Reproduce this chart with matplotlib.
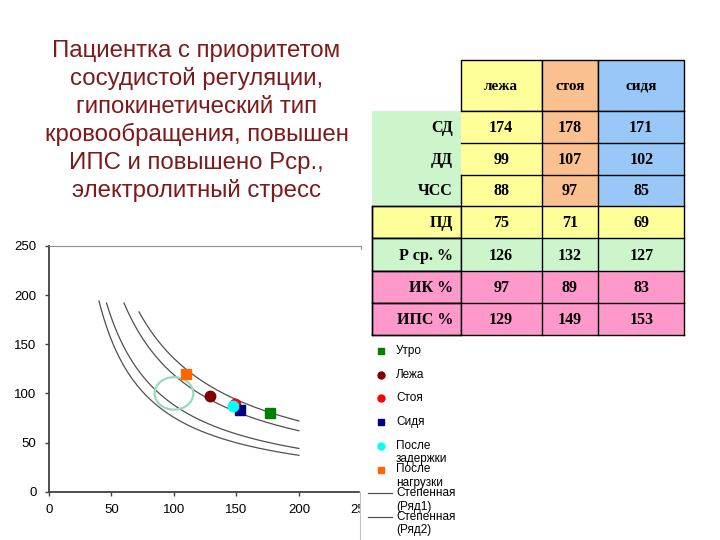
import numpy as np
import matplotlib
matplotlib.use("Agg")
import matplotlib.pyplot as plt
from matplotlib.patches import Rectangle, Ellipse

plt.rcParams["font.family"] = ["Liberation Sans", "DejaVu Sans"]

# --- данные ---
title_text = ("Пациентка с приоритетом\nсосудистой регуляции,\nгипокинетический тип\n"
              "кровообращения, повышен\nИПС и повышено Рср.,\nэлектролитный стресс")

point_names = ["Утро", "Лежа", "Стоя", "Сидя", "После\nзадержки", "После\nнагрузки"]
point_x = [177, 129, 149, 153, 147, 110]   # ИПС
point_y = [80, 97, 89, 83, 87, 120]        # ИК
point_colors = ["#008000", "#800000", "#ff0000", "#000080", "#00ffff", "#ff6600"]
point_markers = ["s", "o", "o", "s", "o", "s"]

# степенные линии тренда: начальная и конечная точки
curve_x0 = [72, 60, 46, 40]
curve_y0 = [183, 192, 192, 194]
curve_x1 = [200, 200, 200, 200]
curve_y1 = [72, 62, 44, 37]
trend_names = ["Степенная\n(Ряд1)", "Степенная\n(Ряд2)"]

norm_center = (100, 100)
norm_w, norm_h = 31, 33

col_headers = ["лежа", "стоя", "сидя"]
row_labels = ["СД", "ДД", "ЧСС", "ПД", "Р ср. %", "ИК %", "ИПС %"]
table_values = [
    [174, 178, 171],
    [99, 107, 102],
    [88, 97, 85],
    [75, 71, 69],
    [126, 132, 127],
    [97, 89, 83],
    [129, 149, 153],
]

# цвета таблицы
YEL, ORA, BLU, GRN, PNK = "#ffff99", "#fac090", "#99c7f7", "#ccf5cc", "#ff99cc"
col_colors = [YEL, ORA, BLU]
row_colors = [None, None, None, YEL, GRN, PNK, PNK]

W, H = 720, 540
fig = plt.figure(figsize=(7.2, 5.4), dpi=100)

# --- график ---
ax = fig.add_axes([49 / W, 1 - 491.7 / H, (361.4 - 49) / W, (491.7 - 246) / H])
ax.set_xlim(0, 250)
ax.set_ylim(0, 250)
ax.set_xticks(np.arange(0, 251, 50))
ax.set_yticks(np.arange(0, 251, 50))
ax.tick_params(labelsize=9.5, length=3, width=1, color="#404040", pad=6)
for s in ["left", "bottom"]:
    ax.spines[s].set_color("#404040")
    ax.spines[s].set_linewidth(1.3)
for s in ["top", "right"]:
    ax.spines[s].set_color("#909090")
    ax.spines[s].set_linewidth(0.8)

for x0, y0, x1, y1 in zip(curve_x0, curve_y0, curve_x1, curve_y1):
    b = np.log(y1 / y0) / np.log(x1 / x0)
    a = y0 / x0 ** b
    xs = np.linspace(x0, x1, 200)
    ax.plot(xs, a * xs ** b, color="#505050", lw=0.9, zorder=2)

ax.add_patch(Ellipse(norm_center, norm_w, norm_h, fill=False,
                     edgecolor="#99d9bd", lw=1.6, zorder=3))

for x, y, c, m in zip(point_x, point_y, point_colors, point_markers):
    ax.plot(x, y, marker=m, color=c, markersize=7.5, ls="none", zorder=4)

# --- слой в пиксельных координатах ---
ov = fig.add_axes([0, 0, 1, 1], facecolor="none")
ov.set_xlim(0, W)
ov.set_ylim(H, 0)
ov.axis("off")

# белый фон картинки таблицы и легенды
ov.add_patch(Rectangle((360.3, 250), W - 360.3, H - 250, color="white", zorder=1))
ov.plot([359.5, 359.5], [491.7, 540], color="#c0c0c0", lw=0.8, zorder=2)

fig.text(196.5 / W, 1 - 121 / H, title_text, ha="center", va="center",
         fontsize=17.3, color="#7f1a1a", linespacing=1.31)

# --- таблица ---
col_edges = [460.7, 541.7, 598.3, 684.3]
row_edges = [111, 143.3, 175, 205.7, 238.3, 271, 303.3, 335]
head_top = 60
lab_left = 371.7
serif = ["Liberation Serif", "DejaVu Serif"]

# заголовки
for j, name in enumerate(col_headers):
    ov.add_patch(Rectangle((col_edges[j], head_top), col_edges[j + 1] - col_edges[j],
                           row_edges[0] - head_top, facecolor=col_colors[j],
                           edgecolor="black", lw=1, zorder=3))
    ov.text((col_edges[j] + col_edges[j + 1]) / 2, (head_top + row_edges[0]) / 2 + 1, name,
            ha="center", va="center", fontsize=11, fontweight="bold",
            family=serif, zorder=5)

# зелёная область подписей СД/ДД/ЧСС
ov.add_patch(Rectangle((lab_left, row_edges[0]), col_edges[0] - lab_left,
                       row_edges[3] - row_edges[0], facecolor=GRN, lw=0, zorder=3))

for i, lab in enumerate(row_labels):
    top, bot = row_edges[i], row_edges[i + 1]
    rc = row_colors[i]
    if rc is not None:
        ov.add_patch(Rectangle((lab_left, top), col_edges[0] - lab_left, bot - top,
                               facecolor=rc, edgecolor="black", lw=1, zorder=3))
    for j in range(3):
        fc = rc if rc is not None else col_colors[j]
        ov.add_patch(Rectangle((col_edges[j], top), col_edges[j + 1] - col_edges[j],
                               bot - top, facecolor=fc, lw=0, zorder=3))
        ov.text((col_edges[j] + col_edges[j + 1]) / 2, (top + bot) / 2 + 1,
                str(table_values[i][j]), ha="center", va="center", fontsize=11.5,
                fontweight="bold", family=serif, zorder=5)
    ov.text(453, (top + bot) / 2 + 1, lab, ha="right", va="center", fontsize=11.5,
            fontweight="bold", family=serif, zorder=5)

# линии сетки таблицы
lk = dict(color="black", lw=1, zorder=4, solid_capstyle="projecting")
for y in row_edges:
    x_start = lab_left if y >= row_edges[3] else col_edges[0]
    ov.plot([x_start, col_edges[-1]], [y, y], **lk)
for x in col_edges[1:]:
    ov.plot([x, x], [row_edges[0], row_edges[-1]], **lk)
ov.plot([col_edges[0], col_edges[0]], [row_edges[2], row_edges[-1]], **lk)
ov.plot([lab_left, lab_left], [row_edges[3], row_edges[-1]], **lk)

# --- легенда ---
leg_y0, leg_step = 351, 23.7
leg_names = point_names + trend_names
for i, name in enumerate(leg_names):
    y = leg_y0 + i * leg_step
    if i < len(point_names):
        ov.plot(380.7, y, marker=point_markers[i], color=point_colors[i],
                markersize=5, ls="none", zorder=5)
    else:
        ov.plot([368, 392], [y, y], color="#505050", lw=0.9, zorder=5)
    for k, line in enumerate(name.split("\n")):
        ov.text(396, y + k * 13.5, line, ha="left", va="center", fontsize=8.5, zorder=5)

fig.savefig("out.png", dpi=100)
